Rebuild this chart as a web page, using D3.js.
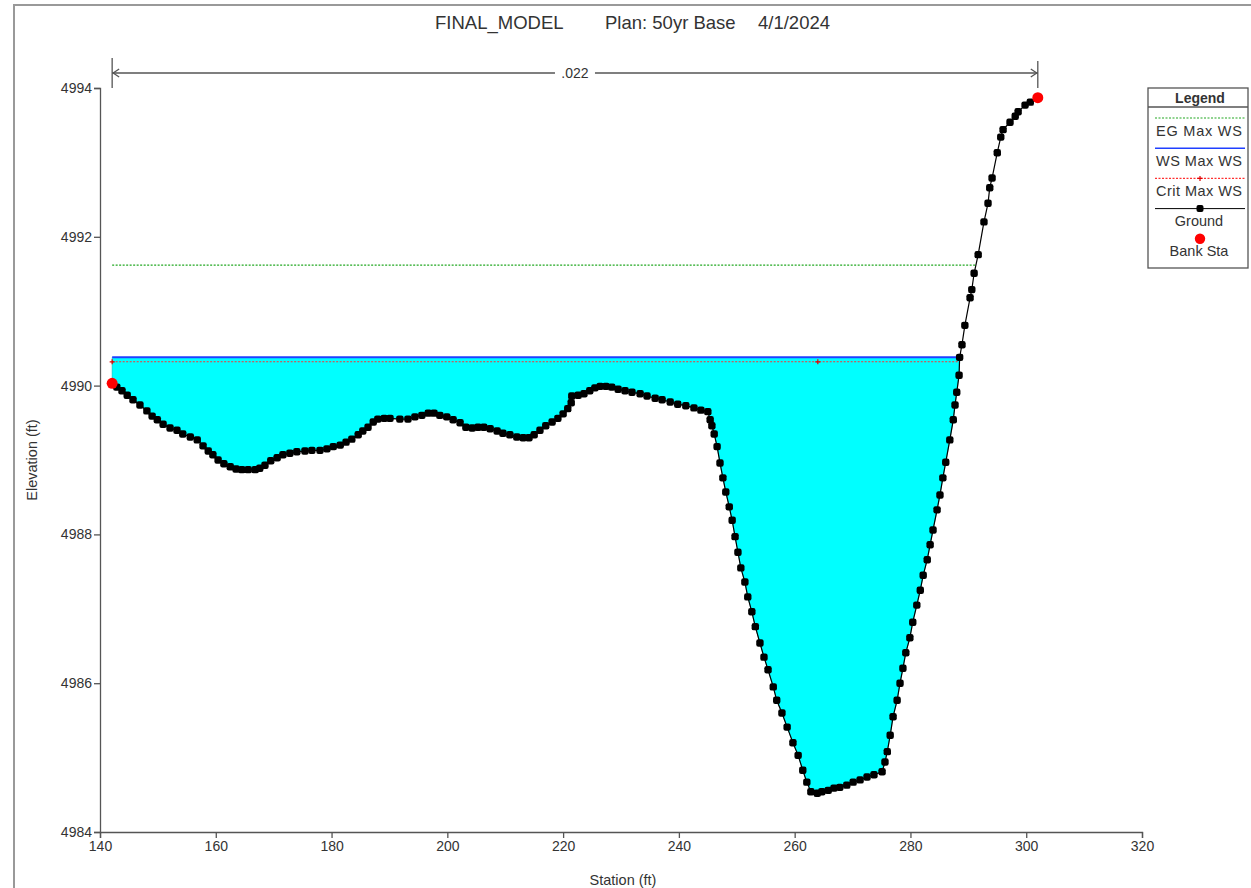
<!DOCTYPE html>
<html lang="en">
<head>
    <meta charset="UTF-8">
    <title>FINAL_MODEL cross section</title>
    <script src="https://cdnjs.cloudflare.com/ajax/libs/d3/7.8.5/d3.min.js"></script>
    <style>
        body { margin: 0; background: #fff; }
        text { font-family: "Liberation Sans", Arial, sans-serif; fill: #333; }
    </style>
</head>
<body>
    <div id="wrapper"></div>
    <script>
        // ground points
        const groundSta = [142.1, 142.9, 143.8, 144.7, 145.7, 146.9, 148.1, 149.0, 149.9, 150.9,
            152.1, 153.3, 154.3, 155.6, 156.8, 157.8, 158.7, 159.5, 160.4, 161.4,
            162.5, 163.5, 164.5, 165.6, 166.8, 167.6, 168.5, 169.5, 170.6, 171.6,
            172.8, 174.0, 175.4, 176.6, 178.0, 179.2, 180.3, 181.5, 182.5, 183.5,
            184.6, 185.4, 186.3, 187.2, 188.0, 189.1, 190.1, 191.8, 193.2, 194.4,
            195.6, 196.7, 197.7, 198.7, 199.9, 201.0, 202.2, 203.2, 204.3, 205.3,
            206.3, 207.4, 208.6, 209.6, 210.8, 212.0, 213.1, 214.1, 215.0, 216.0,
            217.0, 218.1, 219.1, 220.0, 220.8, 221.4, 221.5, 222.6, 223.6, 224.6,
            225.5, 226.4, 227.4, 228.4, 229.5, 230.7, 231.9, 233.3, 234.5, 235.9,
            237.1, 238.5, 239.8, 241.2, 242.6, 243.8, 245.0, 245.4, 245.7, 246.1,
            246.6, 247.1, 247.6, 248.1, 248.7, 249.2, 249.7, 250.2, 250.7, 251.4,
            251.9, 252.6, 253.2, 254.0, 254.7, 255.4, 256.3, 256.9, 257.8, 258.7,
            259.7, 260.6, 261.4, 262.1, 262.8, 263.9, 264.7, 265.8, 266.8, 267.8,
            269.0, 270.1, 271.3, 272.5, 273.7, 275.1, 275.6, 276.0, 276.5, 277.0,
            277.7, 278.2, 278.7, 279.2, 279.9, 280.4, 281.1, 281.7, 282.2, 282.9,
            283.4, 283.9, 284.6, 285.1, 285.6, 286.1, 286.8, 287.4, 287.7, 288.0,
            288.4, 288.5, 288.9, 289.4, 290.3, 290.6, 291.0, 291.7, 292.7, 293.4,
            293.7, 294.1, 295.0, 295.6, 296.0, 297.2, 298.1, 298.6, 299.8, 300.7, 302.0]
        const groundElev = [4990.03, 4989.98, 4989.93, 4989.87, 4989.81, 4989.74, 4989.66, 4989.59, 4989.54, 4989.48,
            4989.43, 4989.40, 4989.35, 4989.31, 4989.27, 4989.19, 4989.12, 4989.07, 4989.00, 4988.95,
            4988.91, 4988.88, 4988.87, 4988.87, 4988.87, 4988.89, 4988.93, 4988.99, 4989.03, 4989.07,
            4989.09, 4989.11, 4989.12, 4989.13, 4989.13, 4989.15, 4989.18, 4989.20, 4989.24, 4989.28,
            4989.34, 4989.39, 4989.44, 4989.51, 4989.55, 4989.56, 4989.56, 4989.55, 4989.55, 4989.58,
            4989.60, 4989.63, 4989.63, 4989.60, 4989.58, 4989.54, 4989.50, 4989.44, 4989.43, 4989.44,
            4989.44, 4989.42, 4989.39, 4989.36, 4989.34, 4989.31, 4989.30, 4989.30, 4989.34, 4989.40,
            4989.46, 4989.51, 4989.56, 4989.62, 4989.69, 4989.77, 4989.86, 4989.87, 4989.89, 4989.93,
            4989.97, 4989.99, 4989.99, 4989.98, 4989.95, 4989.93, 4989.91, 4989.89, 4989.86, 4989.83,
            4989.81, 4989.78, 4989.75, 4989.73, 4989.70, 4989.67, 4989.65, 4989.54, 4989.46, 4989.35,
            4989.18, 4988.96, 4988.76, 4988.57, 4988.37, 4988.19, 4987.97, 4987.76, 4987.55, 4987.36,
            4987.16, 4986.96, 4986.76, 4986.54, 4986.35, 4986.18, 4985.95, 4985.77, 4985.60, 4985.41,
            4985.20, 4985.03, 4984.83, 4984.67, 4984.54, 4984.52, 4984.54, 4984.56, 4984.59, 4984.60,
            4984.63, 4984.67, 4984.70, 4984.74, 4984.77, 4984.81, 4984.94, 4985.08, 4985.30, 4985.55,
            4985.77, 4986.00, 4986.20, 4986.41, 4986.61, 4986.82, 4987.05, 4987.25, 4987.45, 4987.66,
            4987.86, 4988.06, 4988.33, 4988.53, 4988.76, 4988.97, 4989.27, 4989.54, 4989.74, 4989.91,
            4990.14, 4990.38, 4990.55, 4990.81, 4991.18, 4991.29, 4991.51, 4991.76, 4992.20, 4992.45,
            4992.66, 4992.79, 4993.13, 4993.34, 4993.44, 4993.54, 4993.62, 4993.68, 4993.77, 4993.81, 4993.87]

        const bankSta = [142.1, 302.0]
        const bankElev = [4990.03, 4993.87]

        const wsElev = 4990.38     // WS Max WS
        const critElev = 4990.32   // Crit Max WS
        const egElev = 4991.62     // EG Max WS
        const critMarkSta = [142.1, 264.0]
        const nValue = '.022'

        const xTicks = [140, 160, 180, 200, 220, 240, 260, 280, 300, 320]
        const yTicks = [4984, 4986, 4988, 4990, 4992, 4994]
        const legendItems = ['EG Max WS', 'WS Max WS', 'Crit Max WS', 'Ground', 'Bank Sta']

        const ground = groundSta.map((s, i) => ({ sta: s, elev: groundElev[i] }))

        function drawChart() {
            const dimensions = {
                width: 1251,
                height: 888,
                margin: { top: 88, right: 109, bottom: 56, left: 100 }
            }
            dimensions.boundedWidth = dimensions.width - dimensions.margin.left - dimensions.margin.right
            dimensions.boundedHeight = dimensions.height - dimensions.margin.top - dimensions.margin.bottom

            const svg = d3.select('#wrapper')
                .append('svg')
                    .attr('width', dimensions.width)
                    .attr('height', dimensions.height)

            // outer frame
            svg.append('rect')
                .attr('x', 14).attr('y', 5)
                .attr('width', 1260).attr('height', 900)
                .attr('fill', 'none').attr('stroke', '#999').attr('stroke-width', 2)

            const bounds = svg.append('g')
                .attr('transform', `translate(${dimensions.margin.left},${dimensions.margin.top})`)

            const xScale = d3.scaleLinear()
                .domain([140, 320])
                .range([0, dimensions.boundedWidth])
            const yScale = d3.scaleLinear()
                .domain([4984, 4994])
                .range([dimensions.boundedHeight, 0])

            // where the ground rises above a level on the right
            const crossAt = (level) => {
                for (let i = 1; i < ground.length; i++) {
                    const a = ground[i - 1], b = ground[i]
                    if (a.elev < level && b.elev >= level) {
                        return a.sta + (level - a.elev) / (b.elev - a.elev) * (b.sta - a.sta)
                    }
                }
                return ground[ground.length - 1].sta
            }
            const wsRight = crossAt(wsElev)
            const critRight = crossAt(critElev)
            const egRight = crossAt(egElev)

            // water fill
            const wetPts = [{ sta: bankSta[0], elev: wsElev }]
                .concat(ground.filter(d => d.sta < wsRight))
                .concat([{ sta: wsRight, elev: wsElev }])
            bounds.append('path')
                .datum(wetPts)
                .attr('d', d3.line().x(d => xScale(d.sta)).y(d => yScale(d.elev)))
                .attr('fill', '#00ffff')
                .attr('stroke', '#00bcbc')
                .attr('stroke-width', 0.6)

            // EG line
            bounds.append('line')
                .attr('x1', xScale(bankSta[0])).attr('x2', xScale(egRight))
                .attr('y1', yScale(egElev)).attr('y2', yScale(egElev))
                .attr('stroke', '#22a822').attr('stroke-width', 1.2)
                .attr('stroke-dasharray', '2,1.5')

            // crit line
            bounds.append('line')
                .attr('x1', xScale(bankSta[0])).attr('x2', xScale(critRight))
                .attr('y1', yScale(critElev)).attr('y2', yScale(critElev))
                .attr('stroke', '#ff3030').attr('stroke-width', 1.1)
                .attr('stroke-dasharray', '2,1.5')
            bounds.selectAll('.crit-mark')
                .data(critMarkSta)
                .join('path')
                    .attr('class', 'crit-mark')
                    .attr('d', d => `M${xScale(d) - 2.5},${yScale(critElev)}h5M${xScale(d)},${yScale(critElev) - 2.5}v5`)
                    .attr('stroke', '#e00000').attr('stroke-width', 1.2)

            // WS line
            bounds.append('line')
                .attr('x1', xScale(bankSta[0])).attr('x2', xScale(wsRight))
                .attr('y1', yScale(wsElev)).attr('y2', yScale(wsElev))
                .attr('stroke', '#2040ff').attr('stroke-width', 2)

            // ground
            bounds.append('path')
                .datum(ground)
                .attr('d', d3.line().x(d => xScale(d.sta)).y(d => yScale(d.elev)))
                .attr('fill', 'none')
                .attr('stroke', '#000')
                .attr('stroke-width', 1.2)
            bounds.selectAll('.gpt')
                .data(ground)
                .join('rect')
                    .attr('class', 'gpt')
                    .attr('x', d => xScale(d.sta) - 3.7)
                    .attr('y', d => yScale(d.elev) - 3.7)
                    .attr('width', 7.4).attr('height', 7.4)
                    .attr('rx', 2.2)
                    .attr('fill', '#000')

            // bank stations
            bounds.selectAll('.bank')
                .data(bankSta)
                .join('circle')
                    .attr('class', 'bank')
                    .attr('cx', d => xScale(d))
                    .attr('cy', (d, i) => yScale(bankElev[i]))
                    .attr('r', 5.5)
                    .attr('fill', '#ff0000')

            // axes
            const tickFont = '14px'
            const xAxis = bounds.append('g')
                .attr('transform', `translate(0,${dimensions.boundedHeight})`)
            xAxis.call(d3.axisBottom(xScale).tickValues(d3.range(140, 321, 10)).tickSize(3).tickFormat(''))
            xAxis.call(d3.axisBottom(xScale).tickValues(xTicks).tickSize(6).tickPadding(3))
            xAxis.selectAll('path, line').attr('stroke', '#555').attr('stroke-width', 1.3)
            xAxis.selectAll('text').style('font-size', tickFont).attr('fill', '#333')
                .style('font-family', '"Liberation Sans", Arial, sans-serif')

            const yAxis = bounds.append('g')
            yAxis.call(d3.axisLeft(yScale).tickValues(d3.range(4984, 4994.01, 0.4)).tickSize(3).tickFormat(''))
            yAxis.call(d3.axisLeft(yScale).tickValues(yTicks).tickSize(6).tickPadding(2).tickFormat(d3.format('d')))
            yAxis.selectAll('path, line').attr('stroke', '#555').attr('stroke-width', 1.3)
            yAxis.selectAll('text').style('font-size', tickFont).attr('fill', '#333')
                .style('font-family', '"Liberation Sans", Arial, sans-serif')

            svg.append('text')
                .attr('x', 623).attr('y', 885)
                .attr('text-anchor', 'middle')
                .style('font-size', '14.5px')
                .text('Station (ft)')
            svg.append('text')
                .attr('transform', 'translate(37,460) rotate(-90)')
                .attr('text-anchor', 'middle')
                .style('font-size', '14.5px')
                .text('Elevation (ft)')

            // title
            const title = svg.append('g').style('font-size', '18.5px')
            title.append('text').attr('x', 435).attr('y', 29).text('FINAL_MODEL')
            title.append('text').attr('x', 605).attr('y', 29).text('Plan: 50yr Base')
            title.append('text').attr('x', 758).attr('y', 29).text('4/1/2024')

            // n-value dimension line between bank stations
            const dimY = 73 - dimensions.margin.top
            const xl = xScale(bankSta[0]), xr = xScale(bankSta[1])
            const dim = bounds.append('g').attr('stroke', '#555').attr('fill', 'none').attr('stroke-width', 1.3)
            dim.append('line').attr('x1', xl).attr('x2', xr).attr('y1', dimY).attr('y2', dimY)
            dim.append('line').attr('x1', xl).attr('x2', xl).attr('y1', dimY - 15).attr('y2', 0)
            dim.append('line').attr('x1', xr).attr('x2', xr).attr('y1', dimY - 12).attr('y2', 0)
            dim.append('path').attr('d', `M${xl + 7},${dimY - 4}L${xl + 1},${dimY}L${xl + 7},${dimY + 4}`)
            dim.append('path').attr('d', `M${xr - 7},${dimY - 4}L${xr - 1},${dimY}L${xr - 7},${dimY + 4}`)
            const mid = (xl + xr) / 2
            bounds.append('rect')
                .attr('x', mid - 20).attr('y', dimY - 8)
                .attr('width', 40).attr('height', 16)
                .attr('fill', '#fff')
            bounds.append('text')
                .attr('x', mid).attr('y', dimY + 5)
                .attr('text-anchor', 'middle')
                .style('font-size', '14px')
                .text(nValue)

            // legend
            const legend = svg.append('g').attr('transform', 'translate(1148,88)')
            legend.append('rect')
                .attr('width', 100).attr('height', 180)
                .attr('fill', '#fff').attr('stroke', '#555').attr('stroke-width', 1.3)
            legend.append('line')
                .attr('x1', 0).attr('x2', 100).attr('y1', 19).attr('y2', 19)
                .attr('stroke', '#555').attr('stroke-width', 1.3)
            legend.append('text')
                .attr('x', 52).attr('y', 15)
                .attr('text-anchor', 'middle')
                .style('font-size', '14px').style('font-weight', 'bold')
                .attr('fill', '#111')
                .text('Legend')

            const rowH = 30.2
            const rows = legend.selectAll('.leg-row')
                .data(legendItems)
                .join('g')
                    .attr('class', 'leg-row')
                    .attr('transform', (d, i) => `translate(0,${30 + i * rowH})`)
            rows.append('text')
                .attr('x', 51).attr('y', 17.5)
                .attr('text-anchor', 'middle')
                .style('font-size', '14.5px')
                .attr('textLength', d => d.length > 8 ? 86 : null)
                .text(d => d)

            const symX1 = 7, symX2 = 97, symMid = 52
            rows.filter((d, i) => i === 0).append('line')
                .attr('x1', symX1).attr('x2', symX2).attr('y1', 0).attr('y2', 0)
                .attr('stroke', '#22a822').attr('stroke-width', 1.2).attr('stroke-dasharray', '2,1.5')
            rows.filter((d, i) => i === 1).append('line')
                .attr('x1', symX1).attr('x2', symX2).attr('y1', 0).attr('y2', 0)
                .attr('stroke', '#2040ff').attr('stroke-width', 1.5)
            const critRow = rows.filter((d, i) => i === 2)
            critRow.append('line')
                .attr('x1', symX1).attr('x2', symX2).attr('y1', 0).attr('y2', 0)
                .attr('stroke', '#ff3030').attr('stroke-width', 1.1).attr('stroke-dasharray', '2,1.5')
            critRow.append('path')
                .attr('d', `M${symMid - 2.5},0h5M${symMid},-2.5v5`)
                .attr('stroke', '#e00000').attr('stroke-width', 1.2)
            const groundRow = rows.filter((d, i) => i === 3)
            groundRow.append('line')
                .attr('x1', symX1).attr('x2', symX2).attr('y1', 0).attr('y2', 0)
                .attr('stroke', '#000').attr('stroke-width', 1)
            groundRow.append('rect')
                .attr('x', symMid - 3.5).attr('y', -3.5)
                .attr('width', 7).attr('height', 7).attr('rx', 2)
                .attr('fill', '#000')
            rows.filter((d, i) => i === 4).append('circle')
                .attr('cx', symMid).attr('cy', 0).attr('r', 5.2)
                .attr('fill', '#ff0000')
        }

        drawChart()
    </script>
</body>
</html>
